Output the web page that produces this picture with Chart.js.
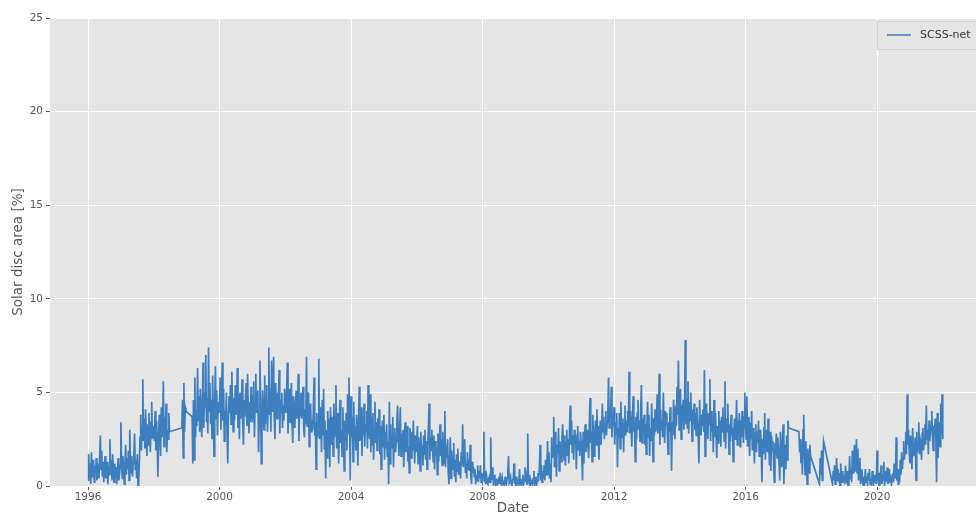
<!DOCTYPE html>
<html>
<head>
<meta charset="utf-8">
<script src="https://cdn.jsdelivr.net/npm/chart.js@4/dist/chart.umd.min.js"></script>
<style>
  html, body { margin: 0; padding: 0; background: #ffffff; }
  #wrap { width: 976px; height: 515px; }
</style>
</head>
<body>
<div id="wrap"><canvas id="c" width="976" height="515"></canvas></div>
<script>
// Solar disc area covered by segmented features, roughly weekly samples (48 per year).
// null marks stretches without observations; the line is drawn straight across them.
const seriesLabel = 'SCSS-net';
const startYear = 1996;

const y1996 = [0.3,1.7,0.6,1.2,0.1,1.8,0.5,0.9, 1.4,0.2,1.1,0.7,1.5,0.3,0.8,1.2, 0.4,1.6,2.7,0.9,1.9,0.5,1.3,0.2, 1.0,1.6,0.4,0.8,1.3,0.1,1.1,0.6, 2.5,0.9,1.4,0.3,1.7,0.7,0.2,1.2, 0.5,1.0,0.1,0.8,1.5,0.3,0.6,1.1];
const y1997 = [3.4,1.2,0.4,1.6,0.8,0.1,1.3,2.2, 0.6,1.5,0.9,1.9,0.3,3.0,1.1,0.7, 1.6,0.5,1.2,1.8,2.8,0.9,1.4,0.4, 1.7,0,0.2,1.3,2.6,3.8,1.9,3.1, 5.7,2.4,3.6,2.0,4.1,2.7,1.6,3.3, 2.2,3.9,2.8,1.8,3.4,4.5,2.5,3.0];
const y1998 = [3.2,2.4,4.0,1.9,3.5,2.7,0.5,2.2, 3.8,2.9,1.6,4.2,2.6,3.4,5.6,2.1, 3.7,2.8,4.4,1.8,3.0,2.5,3.9,2.9, null,null,null,null,null,null,null,null, null,null,null,null,null,null,null,null, null,3.1,4.6,1.5,5.5,2.9,4.2,4.0];
const y1999 = [null,null,null,null,null,null,null,null, 3.7,1.2,4.6,1.4,5.8,2.6,4.1,3.2, 6.3,3.5,4.8,2.9,5.2,3.8,2.6,4.4, 6.6,3.1,5.0,4.2,7.0,3.4,4.7,2.8, 7.4,4.0,5.5,3.3,4.6,2.5,5.9,3.7, 1.6,4.3,6.4,3.6,5.1,2.7,4.5,3.9];
const y2000 = [4.2,5.8,3.0,4.6,6.6,3.5,5.2,2.4, 4.0,3.3,5.0,2.8,1.2,3.6,4.8,3.9, 5.4,3.3,6.1,4.1,2.9,4.7,3.5,5.4, 3.8,4.4,6.3,3.1,4.9,2.5,5.0,3.6, 4.3,5.7,3.2,2.2,4.6,3.7,4.9,5.5, 3.2,6.0,4.1,2.8,4.5,3.4,5.3,3.9];
const y2001 = [3.4,4.8,5.6,2.6,4.4,6.0,3.9,4.2, 5.1,1.8,3.6,6.7,4.5,1.2,3.2,5.1, 4.0,3.0,5.9,3.3,4.7,5.4,2.9,4.1, 7.4,3.8,5.2,2.9,6.7,4.0,4.8,6.9, 3.5,2.5,5.5,4.2,3.6,5.0,4.4,6.2, 2.8,4.6,3.9,5.0,3.1,4.3,3.5,5.2];
const y2002 = [4.6,3.9,5.0,6.6,2.8,4.4,5.2,3.4, 4.7,5.5,3.3,2.3,4.8,3.9,3.1,4.5, 5.1,3.6,4.2,6.0,2.4,4.5,3.7,5.0, 3.6,4.4,5.3,3.0,2.6,4.1,3.3,6.9, 3.2,4.7,5.0,2.1,3.8,4.4,2.9,3.5, 3.0,4.0,5.8,2.7,3.4,0.9,3.9,2.6];
const y2003 = [3.1,6.8,2.5,4.2,3.3,1.8,4.6,2.7, 5.2,2.0,3.5,0.4,3.0,1.5,4.0,2.4, 3.6,1.0,4.2,2.9,2.2,3.7,1.6,4.4, 2.6,3.3,5.4,2.0,3.9,2.8,1.2,3.4, 4.6,2.3,3.0,1.6,4.2,2.7,0.8,3.5, 2.4,3.9,1.9,4.9,2.8,5.8,3.1,0.3];
const y2004 = [4.8,2.6,3.7,1.3,4.5,2.4,3.2,1.9, 3.8,2.8,1.1,3.6,5.3,2.4,3.0,4.2, 1.6,3.5,2.7,4.4,2.1,3.3,2.9,4.0, 2.0,5.4,3.1,2.5,4.9,1.8,3.7,2.2, 3.9,1.4,3.0,4.5,2.3,3.4,1.9,3.6, 2.6,4.1,1.7,3.2,0.9,2.8,3.5,2.1];
const y2005 = [3.8,1.4,2.9,2.0,3.3,1.6,2.4,0.1, 4.5,1.2,3.3,2.0,2.7,3.7,1.0,2.6, 3.1,1.8,2.4,3.5,4.3,2.5,1.6,3.0, 4.2,1.6,2.8,2.2,3.0,1.0,2.5,3.4, 1.8,2.6,3.2,1.3,2.1,0.7,3.1,2.4, 1.5,2.9,1.9,3.5,2.2,1.2,2.7,1.8];
const y2006 = [1.8,3.2,1.2,2.6,2.0,0.8,2.9,1.5, 2.2,1.1,2.7,1.7,3.0,1.4,2.4,0.9, 2.1,3.1,4.4,1.4,2.6,1.9,3.0,2.0, 1.3,2.7,0.9,2.4,1.6,2.1,0.6,2.8, 1.3,2.3,3.3,1.6,2.5,1.1,2.9,1.9, 1.2,4.0,1.0,2.2,1.5,2.5,0.7,0.1];
const y2007 = [1.5,2.6,0.4,1.9,1.1,0.9,2.3,0.5, 1.4,0.2,1.7,0.8,2.0,0.6,1.3,0.9, 0.4,1.8,1.1,3.3,1.0,1.6,2.5,0.7, 1.2,0.4,1.8,0.9,1.4,0.8,2.2,0.5, 0.1,1.3,0.7,1.0,0.5,0.9,0.1,0.6, 0.3,1.1,0.2,0.8,0.4,1.1,0.2,0.7];
const y2008 = [0.3,0.6,2.9,0.2,0.8,0.1,0.5,0.2, 0.1,0.4,0.5,0.2,2.6,0.3,0.7,1.0, 0.1,0.3,0.6,0,0.2,0.4,0.1,0.3, 0.5,0.1,0.7,0.2,0,0.4,0.1,0.3, 0,0.5,0.2,0.1,0.4,0.8,1.6,0.2, 0.2,0.5,0.1,0,0.3,0.4,1.2,0.2];
const y2009 = [0.1,0.5,0,0.3,0.2,0.1,0.9,0.1, 0.4,0,0.2,0.6,0.1,0.3,1.0,0.2, 0.5,0.1,2.8,0.2,0.6,0.1,0,0.3, 0.2,0.1,0.4,0.8,0,0.2,0.5,0.1, 0.3,0.7,0.5,0.9,2.2,0.3,1.1,0.2, 0.8,0.4,1.1,0.3,1.4,0.6,1.0,2.4];
const y2010 = [0.6,1.8,0.4,1.2,0.2,2.6,1.5,2.1, 3.7,1.0,2.9,1.6,0.5,2.2,1.7,3.1, 0.8,2.4,1.9,1.3,2.6,3.3,2.0,1.4, 2.7,1.1,2.3,3.0,1.6,2.5,1.2,2.9, 4.3,2.2,3.5,1.8,2.7,1.4,3.0,2.3, 2.8,0.9,2.6,3.2,1.9,2.4,1.6,2.9];
const y2011 = [2.4,1.6,0.3,2.9,1.2,2.6,3.3,1.8, 2.5,3.0,2.1,1.5,3.4,4.7,2.3,2.9, 1.3,3.8,2.4,1.6,2.9,3.5,2.2,4.1, 2.7,3.2,1.4,2.8,3.5,2.2,3.0,4.4, 2.9,3.7,2.5,3.3,4.0,2.7,3.4,3.9, 5.8,3.1,4.2,3.6,5.3,2.6,3.8,3.2];
const y2012 = [4.2,2.2,3.4,2.8,3.9,1.0,3.1,2.6, 3.9,2.0,4.5,3.0,2.6,3.6,1.8,3.3, 4.3,2.7,3.5,2.9,4.0,3.2,6.1,2.8, 4.0,3.1,2.1,3.7,4.8,2.9,3.4,1.3, 3.7,2.5,3.9,4.6,3.0,3.5,2.4,4.1, 5.4,2.3,3.6,2.9,3.8,2.2,3.3,1.7];
const y2013 = [3.3,4.5,2.6,3.8,1.6,3.1,2.4,4.4, 3.0,1.3,3.6,2.7,4.1,2.9,3.4,4.9, 2.8,3.6,6.0,2.2,4.1,3.0,3.5,2.6, 5.0,3.2,2.3,4.0,3.3,3.9,2.6,1.7, 3.4,2.9,4.2,3.1,0.8,3.4,2.7,4.6, 3.5,2.5,4.3,3.2,5.3,3.8,6.7,3.0];
const y2014 = [3.6,5.2,2.5,4.3,3.4,4.6,3.0,4.0, 7.8,3.3,4.7,3.1,5.6,2.8,4.5,3.5, 5.0,3.8,2.4,4.1,3.3,4.4,3.0,3.9, 2.7,4.2,3.4,2.6,1.2,4.6,3.1,2.7, 3.8,3.2,4.1,2.9,6.2,1.6,3.5,4.4, 3.0,2.5,3.9,3.3,5.7,2.4,4.0,2.9];
const y2015 = [3.4,1.8,4.6,2.6,3.9,3.0,1.5,3.2, 2.3,4.0,2.8,3.5,2.1,3.7,2.9,4.2, 3.1,2.4,5.6,2.0,3.6,2.9,4.4,3.2, 1.7,3.3,2.4,3.8,2.7,3.1,1.3,3.0, 3.6,2.5,3.2,4.6,2.2,3.5,2.8,3.9, 2.1,3.5,2.6,4.0,3.1,2.3,3.7,5.0];
const y2016 = [3.2,2.5,4.8,2.1,3.7,2.8,1.6,3.4, 2.5,4.0,1.9,3.1,2.6,1.2,2.8,3.3, 1.8,2.9,2.3,3.5,1.6,2.7,3.0,1.9, 0.2,2.5,1.7,3.1,3.9,1.4,2.6,3.0, 1.8,3.6,2.2,1.1,2.9,0.8,2.7,1.9, 2.4,1.3,0.2,2.3,1.7,2.8,1.5,2.6];
const y2017 = [2.1,1.2,0.3,2.9,1.6,1.0,2.5,3.3, 0.1,1.8,2.2,0.9,2.7,1.4,3.5,3.1, null,null,null,null,null,null,null,null, null,null,null,null,null,null,2.9,1.8, 2.5,1.2,2.2,0.6,3.0,3.8,1.5,0.6, 2.4,1.1,0.1,2.0,1.3,0.7,2.2,1.6];
const y2018 = [null,null,null,null,null,null,null,null, null,null,null,null,0.1,1.5,0.6,1.9, 0.3,1.2,2.4,null,null,null,null,null, null,null,null,null,null,null,null,0.1, 0.8,0.3,1.1,0.1,0.6,1.5,0.3,0.9, 0.2,0.7,0,1.2,0.4,0.2,0.8,0.3];
const y2019 = [0.6,0.1,1.1,0.3,0.2,0.8,0,0.5, 1.6,0.4,0.9,0.2,1.9,0.7,1.2,2.2, 0.8,1.5,2.5,0.7,2.0,0.3,1.1,1.5, 0.1,0.6,0.9,0.2,0,0.5,0.3,0.9, 0.2,0.5,0,0.7,0.3,0.9,0.1,0.4, 0,0.8,0.3,0.1,0.6,0.2,0.4,0.1];
const y2020 = [1.9,0.4,0.2,0.7,0,0.5,1.1,0.1, 0.5,0.3,1.3,0,0.8,0.2,0.6,1.0, 0.1,0.4,0.9,0.2,0.6,0.1,0.3,0.7, 0.2,1.2,0.4,0.6,2.6,0.3,0.9,0.1, 0.9,0.2,1.4,0.6,1.8,0.9,1.5,2.4, 1.4,2.0,2.9,1.7,4.9,2.2,3.0,1.8];
const y2021 = [1.2,2.7,1.8,0.9,3.1,2.0,1.6,2.2, 2.6,0.3,2.9,1.8,2.3,3.4,1.7,2.5, 2.3,1.4,2.8,3.1,1.9,2.6,3.3,2.2, 4.3,2.5,3.0,1.7,3.5,2.4,2.9,3.2, 4.0,2.6,1.9,3.2,2.7,3.6,2.3,0.2, 3.9,1.5,2.8,3.4,2.1,4.4,2.8,4.9];
const y2022 = [2.5];

const yearTicks = [1996, 2000, 2004, 2008, 2012, 2016, 2020];
const areaTicks = [0, 5, 10, 15, 20, 25];

const years = [y1996, y1997, y1998, y1999, y2000, y2001, y2002, y2003, y2004, y2005, y2006,
               y2007, y2008, y2009, y2010, y2011, y2012, y2013, y2014, y2015, y2016, y2017,
               y2018, y2019, y2020, y2021, y2022];

// each yearly list is spread evenly over its calendar year
const points = [];
years.forEach((arr, k) => {
  arr.forEach((v, i) => points.push({ x: startYear + k + i / arr.length, y: v }));
});

const lineColor = '#3D7EBF';
const textColor = '#555555';

Chart.defaults.font.family = '"DejaVu Sans", sans-serif';

// grey panel behind the plot
const panelBackground = {
  id: 'panelBackground',
  beforeDraw(chart) {
    const { ctx, chartArea: a } = chart;
    ctx.save();
    ctx.fillStyle = '#E5E5E5';
    ctx.fillRect(a.left, a.top, a.right - a.left, a.bottom - a.top);
    ctx.restore();
  }
};

// legend box in the upper right corner of the panel
const cornerLegend = {
  id: 'cornerLegend',
  afterDraw(chart) {
    const { ctx } = chart;
    const ds = chart.data.datasets[0];
    ctx.save();
    ctx.fillStyle = 'rgba(229,229,229,0.8)';
    ctx.strokeStyle = '#d0d0d0';
    ctx.lineWidth = 1;
    ctx.fillRect(877.5, 21.5, 110, 28);
    ctx.strokeRect(877.5, 21.5, 110, 28);
    ctx.strokeStyle = ds.borderColor;
    ctx.lineWidth = 1.5;
    ctx.beginPath();
    ctx.moveTo(887, 35);
    ctx.lineTo(911, 35);
    ctx.stroke();
    ctx.fillStyle = '#333333';
    ctx.font = '11px "DejaVu Sans", sans-serif';
    ctx.textBaseline = 'middle';
    ctx.textAlign = 'left';
    ctx.fillText(ds.label, 920, 35);
    ctx.restore();
  }
};

new Chart(document.getElementById('c'), {
  type: 'line',
  data: {
    datasets: [{
      label: seriesLabel,
      data: points,
      borderColor: lineColor,
      backgroundColor: lineColor,
      borderWidth: 1.7,
      pointRadius: 0,
      tension: 0,
      spanGaps: true,
      fill: false
    }]
  },
  options: {
    responsive: false,
    animation: false,
    layout: { padding: { top: 18, right: 0, left: 0, bottom: 0 } },
    plugins: { legend: { display: false }, tooltip: { enabled: false } },
    scales: {
      x: {
        type: 'linear',
        min: 1994.844,
        max: 2023.011,
        afterBuildTicks: (s) => { s.ticks = yearTicks.map(v => ({ value: v })); },
        afterFit: (s) => { s.height = 29; },
        ticks: {
          callback: (v) => String(v),
          color: textColor,
          font: { size: 10.5 },
          padding: 1,
          maxRotation: 0,
          autoSkip: false
        },
        grid: { color: '#ffffff', lineWidth: 1, tickColor: textColor, tickLength: 4 },
        border: { display: false },
        title: {
          display: true,
          text: 'Date',
          color: textColor,
          font: { size: 13.5, lineHeight: 1 },
          padding: { top: 0, bottom: 0 }
        }
      },
      y: {
        min: 0,
        max: 25,
        afterBuildTicks: (s) => { s.ticks = areaTicks.map(v => ({ value: v })); },
        afterFit: (s) => { s.width = 50; },
        ticks: { color: textColor, font: { size: 10.5 }, padding: 3 },
        grid: { color: '#ffffff', lineWidth: 1, tickColor: textColor, tickLength: 4 },
        border: { display: false },
        title: {
          display: true,
          text: 'Solar disc area [%]',
          color: textColor,
          font: { size: 13.5 },
          padding: { top: 10, bottom: 0 }
        }
      }
    }
  },
  plugins: [panelBackground, cornerLegend]
});
</script>
</body>
</html>
